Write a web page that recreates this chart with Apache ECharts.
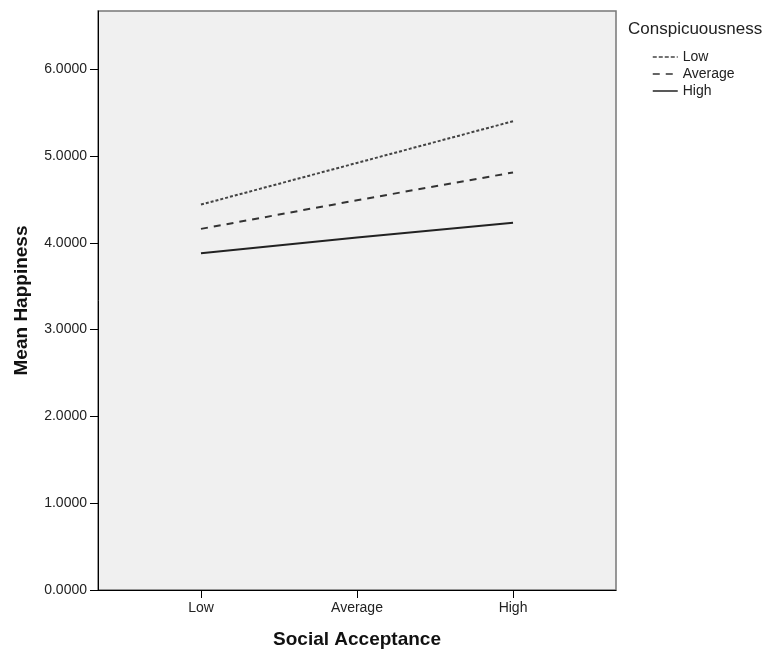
<!DOCTYPE html>
<html>
<head>
<meta charset="utf-8">
<script src="https://cdn.jsdelivr.net/npm/echarts@6/dist/echarts.min.js"></script>
<style>
html,body{margin:0;padding:0;background:#fff;}
#chart{width:765px;height:654px;}
</style>
</head>
<body>
<div id="chart"></div>
<script>
const categories = ['Low', 'Average', 'High'];
const yTicks = [0, 1, 2, 3, 4, 5, 6];
const lowValues = [4.44, 4.92, 5.40];
const averageValues = [4.16, 4.49, 4.81];
const highValues = [3.88, 4.06, 4.23];
const seriesNames = ['Low', 'Average', 'High'];

const font = 'Liberation Sans, Arial, sans-serif';
const toPts = arr => arr.map((v, i) => [i, v]);
const legendDash = [[4, 2], [7, 6], 'solid'];

const chart = echarts.init(document.getElementById('chart'), null, {renderer: 'canvas'});
chart.setOption({
  animation: false,
  backgroundColor: '#ffffff',
  textStyle: {fontFamily: font},
  title: {
    text: 'Conspicuousness',
    left: 628, top: 21, padding: 0,
    textStyle: {fontFamily: font, fontSize: 17, fontWeight: 'normal', color: '#222'}
  },
  legend: {
    orient: 'vertical',
    left: 652, top: 50, padding: 0,
    itemWidth: 25, itemHeight: 14, itemGap: 3,
    data: seriesNames.map((n, i) => ({
      name: n,
      itemStyle: {opacity: 0},
      lineStyle: {type: legendDash[i], width: 1.5}
    })),
    textStyle: {fontFamily: font, fontSize: 14, color: '#222'}
  },
  grid: {
    left: 98, right: 149, top: 11, bottom: 61,
    show: true, backgroundColor: '#f0f0f0', borderColor: '#777', borderWidth: 1.5
  },
  xAxis: {
    type: 'value', min: -0.66, max: 2.66,
    name: 'Social Acceptance', nameLocation: 'middle', nameGap: 40,
    nameTextStyle: {fontFamily: font, fontSize: 19, fontWeight: 'bold', color: '#111'},
    axisLine: {show: true, onZero: false, lineStyle: {color: '#000', width: 1}},
    axisTick: {show: true, length: 8, lineStyle: {color: '#000'}, customValues: [0, 1, 2]},
    axisLabel: {
      margin: 11, fontSize: 14, color: '#222', fontFamily: font,
      customValues: [0, 1, 2],
      formatter: v => categories[Math.round(v)] || ''
    },
    splitLine: {show: false}
  },
  yAxis: {
    type: 'value', min: 0, max: 6.67,
    name: 'Mean Happiness', nameLocation: 'middle', nameGap: 67,
    nameTextStyle: {fontFamily: font, fontSize: 19, fontWeight: 'bold', color: '#111'},
    axisLine: {show: true, onZero: false, lineStyle: {color: '#000', width: 1}},
    axisTick: {show: true, length: 8, lineStyle: {color: '#000'}, customValues: yTicks},
    axisLabel: {
      margin: 11, fontSize: 14, color: '#222', fontFamily: font,
      customValues: yTicks,
      formatter: v => v.toFixed(4)
    },
    splitLine: {show: false}
  },
  series: [
    {
      name: seriesNames[0], type: 'line', data: toPts(lowValues), symbol: 'none',
      lineStyle: {color: '#444', width: 2, type: [3, 2]}, itemStyle: {color: '#444'}
    },
    {
      name: seriesNames[1], type: 'line', data: toPts(averageValues), symbol: 'none',
      lineStyle: {color: '#333', width: 2, type: [7, 6]}, itemStyle: {color: '#333'}
    },
    {
      name: seriesNames[2], type: 'line', data: toPts(highValues), symbol: 'none',
      lineStyle: {color: '#222', width: 2, type: 'solid'}, itemStyle: {color: '#222'}
    }
  ]
});
</script>
</body>
</html>
